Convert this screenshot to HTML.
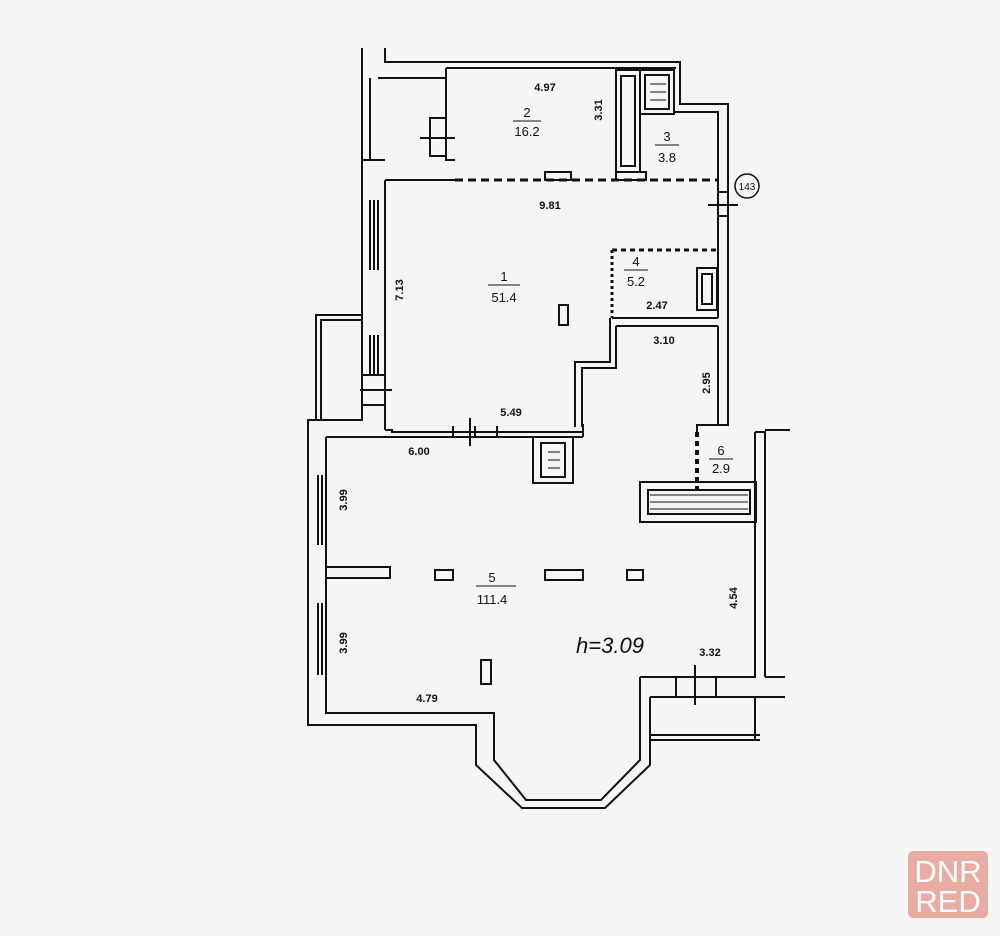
<!DOCTYPE html>
<html><head><meta charset="utf-8"><style>
html,body{margin:0;padding:0;background:#f5f5f4;}
svg{display:block}
text{font-family:"Liberation Sans",sans-serif;fill:#111;font-weight:bold}
</style></head><body>
<svg width="1000" height="936" viewBox="0 0 1000 936" xmlns="http://www.w3.org/2000/svg">
<rect width="1000" height="936" fill="#f5f5f4"/>
<g fill="none" stroke="#111" stroke-width="2">
<polyline points="362,48 362,160 385,160"/>
<polyline points="385,48 385,62 680,62 680,104 718,104"/>
<polyline points="370,78 370,160"/>
<polyline points="378,78 446,78"/>
<polyline points="446,68 446,160 455,160"/>
<polyline points="446,68 676,68"/>
<rect x="430" y="118" width="16" height="38"/>
<line x1="420" y1="138" x2="455" y2="138"/>
<line x1="455" y1="180" x2="718" y2="180" stroke-dasharray="8,5" stroke-width="3"/>
<rect x="545" y="172" width="26" height="8"/>
<rect x="616" y="172" width="30" height="8"/>
<rect x="616" y="70" width="24" height="102"/>
<rect x="621" y="76" width="14" height="90"/>
<rect x="640" y="70" width="34" height="44"/>
<rect x="645" y="75" width="24" height="34"/>
<polyline points="674,112 718,112 718,180"/>
<polyline points="718,104 728,104 728,420"/>
<line x1="718" y1="180" x2="718" y2="318"/>
<rect x="718" y="192" width="10" height="24"/>
<line x1="708" y1="205" x2="738" y2="205"/>
<polyline points="362,160 362,420 316,420 316,315 362,315"/>
<polyline points="321,420 321,320 362,320"/>
<line x1="385" y1="180" x2="385" y2="430"/>
<line x1="385" y1="180" x2="455" y2="180"/>
<line x1="370" y1="200" x2="370" y2="270"/>
<line x1="374" y1="200" x2="374" y2="270"/>
<line x1="378" y1="200" x2="378" y2="270"/>
<line x1="370" y1="335" x2="370" y2="375"/>
<line x1="374" y1="335" x2="374" y2="375"/>
<line x1="378" y1="335" x2="378" y2="375"/>
<line x1="360" y1="390" x2="392" y2="390"/>
<rect x="362" y="375" width="23" height="30"/>
<polyline points="612,250 612,318" stroke-dasharray="3,3" stroke-width="3"/>
<polyline points="612,250 718,250" stroke-dasharray="5,4" stroke-width="3"/>
<line x1="612" y1="318" x2="718" y2="318"/>
<rect x="697" y="268" width="20" height="42"/>
<rect x="702" y="274" width="10" height="30"/>
<polyline points="616,326 616,368 582,368 582,427"/>
<polyline points="610,318 610,362 575,362 575,427"/>
<line x1="616" y1="326" x2="718" y2="326"/>
<line x1="718" y1="326" x2="718" y2="425"/>
<polyline points="385,430 392,430 392,432 583,432"/>
<line x1="385" y1="437" x2="583" y2="437"/>
<line x1="583" y1="424" x2="583" y2="437"/>
<line x1="453" y1="426" x2="453" y2="437"/>
<line x1="475" y1="426" x2="475" y2="437"/>
<line x1="497" y1="426" x2="497" y2="437"/>
<line x1="470" y1="418" x2="470" y2="446"/>
<rect x="533" y="437" width="40" height="46"/>
<rect x="541" y="443" width="24" height="34"/>
<polyline points="362,420 308,420 308,725 476,725 476,765 522,808 605,808 650,765 650,697"/>
<polyline points="326,437 326,713 494,713 494,760 526,800 601,800 640,760 640,677"/>
<line x1="326" y1="437" x2="385" y2="437"/>
<line x1="318" y1="475" x2="318" y2="545"/>
<line x1="322" y1="475" x2="322" y2="545"/>
<line x1="318" y1="603" x2="318" y2="675"/>
<line x1="322" y1="603" x2="322" y2="675"/>
<polyline points="326,567 390,567 390,578 326,578"/>
<rect x="435" y="570" width="18" height="10"/>
<rect x="545" y="570" width="38" height="10"/>
<rect x="627" y="570" width="16" height="10"/>
<rect x="481" y="660" width="10" height="24"/>
<polyline points="697,432 697,425 728,425 728,420"/>
<line x1="697" y1="432" x2="697" y2="490" stroke-dasharray="5,4" stroke-width="4"/>
<polyline points="755,432 765,432 765,677"/>
<polyline points="755,432 755,677 640,677"/>
<line x1="765" y1="430" x2="790" y2="430"/>
<rect x="640" y="482" width="116" height="40"/>
<rect x="648" y="490" width="102" height="24"/>
<polyline points="650,697 785,697"/>
<polyline points="765,677 785,677"/>
<line x1="676" y1="677" x2="676" y2="697"/>
<line x1="716" y1="677" x2="716" y2="697"/>
<line x1="695" y1="665" x2="695" y2="705"/>
<line x1="650" y1="735" x2="760" y2="735"/>
<line x1="650" y1="740" x2="760" y2="740"/>
<line x1="755" y1="697" x2="755" y2="740"/>
</g>
<g stroke="#111" stroke-width="1">
<line x1="650" y1="495" x2="748" y2="495"/><line x1="650" y1="502" x2="748" y2="502"/><line x1="650" y1="509" x2="748" y2="509"/>
<line x1="548" y1="452" x2="560" y2="452"/><line x1="548" y1="460" x2="560" y2="460"/><line x1="548" y1="468" x2="560" y2="468"/>
<line x1="650" y1="84" x2="666" y2="84"/><line x1="650" y1="92" x2="666" y2="92"/><line x1="650" y1="100" x2="666" y2="100"/>
</g>
<circle cx="747" cy="186" r="12" fill="none" stroke="#111" stroke-width="1.5"/>
<text x="747" y="190" text-anchor="middle" font-size="10" style="font-weight:normal">143</text>
<g text-anchor="middle" font-size="11">
<text x="545" y="91">4.97</text>
<text x="527" y="117" font-size="13" style="font-weight:normal">2</text>
<line x1="513" y1="121" x2="541" y2="121" stroke="#111"/>
<text x="527" y="136" font-size="13" style="font-weight:normal">16.2</text>
<text transform="translate(602,110) rotate(-90)">3.31</text>
<text x="667" y="141" font-size="13" style="font-weight:normal">3</text>
<line x1="655" y1="145" x2="679" y2="145" stroke="#111"/>
<text x="667" y="162" font-size="13" style="font-weight:normal">3.8</text>
<text x="550" y="209">9.81</text>
<text x="636" y="266" font-size="13" style="font-weight:normal">4</text>
<line x1="624" y1="270" x2="648" y2="270" stroke="#111"/>
<text x="636" y="286" font-size="13" style="font-weight:normal">5.2</text>
<text x="657" y="309">2.47</text>
<text x="504" y="281" font-size="13" style="font-weight:normal">1</text>
<line x1="488" y1="285" x2="520" y2="285" stroke="#111"/>
<text x="504" y="302" font-size="13" style="font-weight:normal">51.4</text>
<rect x="559" y="305" width="9" height="20" fill="none" stroke="#111" stroke-width="2"/>
<text transform="translate(403,290) rotate(-90)">7.13</text>
<text x="664" y="344">3.10</text>
<text transform="translate(710,383) rotate(-90)">2.95</text>
<text x="511" y="416">5.49</text>
<text x="419" y="455">6.00</text>
<text x="721" y="455" font-size="13" style="font-weight:normal">6</text>
<line x1="709" y1="459" x2="733" y2="459" stroke="#111"/>
<text x="721" y="473" font-size="13" style="font-weight:normal">2.9</text>
<text transform="translate(347,500) rotate(-90)">3.99</text>
<text transform="translate(347,643) rotate(-90)">3.99</text>
<text x="492" y="582" font-size="13" style="font-weight:normal">5</text>
<line x1="476" y1="586" x2="516" y2="586" stroke="#111"/>
<text x="492" y="604" font-size="13" style="font-weight:normal">111.4</text>
<text transform="translate(737,598) rotate(-90)">4.54</text>
<text x="610" y="653" font-size="22" font-style="italic" style="font-weight:normal">h=3.09</text>
<text x="710" y="656">3.32</text>
<text x="427" y="702">4.79</text>
</g>
<rect x="908" y="851" width="80" height="67" rx="5" fill="#e9aca4"/>
<text x="948" y="882" text-anchor="middle" font-size="31" style="fill:#fff;font-weight:normal">DNR</text>
<text x="948" y="912" text-anchor="middle" font-size="31" style="fill:#fff;font-weight:normal">RED</text>
</svg>
</body></html>
